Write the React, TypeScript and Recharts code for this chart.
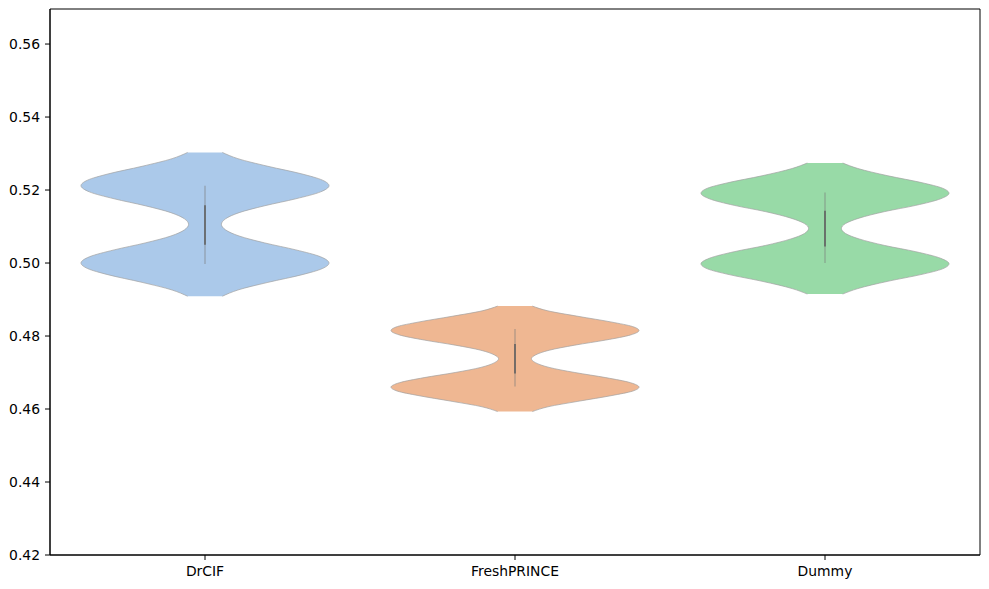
import { ComposedChart, Area, Line, XAxis, YAxis, ReferenceArea } from 'recharts';

const categories = ['DrCIF', 'FreshPRINCE', 'Dummy'];
const fills = ['#abc9ea', '#efb792', '#98daa7'];
const yTicks = [0.42, 0.44, 0.46, 0.48, 0.5, 0.52, 0.54, 0.56];

// violin outlines: value level -> half width (in category units)
const drcifLevels = [0.4909, 0.4926, 0.4947, 0.4968, 0.4985, 0.5, 0.5017, 0.5036, 0.5055, 0.5074, 0.5091, 0.5106, 0.5121, 0.5138, 0.5157, 0.5176, 0.5195, 0.5212, 0.5227, 0.5244, 0.5265, 0.5286, 0.5303];
const drcifWidths = [0.056, 0.106, 0.203, 0.313, 0.379, 0.4, 0.373, 0.293, 0.193, 0.11, 0.066, 0.053, 0.066, 0.11, 0.193, 0.293, 0.373, 0.4, 0.379, 0.313, 0.203, 0.106, 0.056];

const freshLevels = [0.4593, 0.4606, 0.4621, 0.4637, 0.4649, 0.466, 0.4672, 0.4686, 0.47, 0.4714, 0.4727, 0.4738, 0.4748, 0.4761, 0.4775, 0.4789, 0.4803, 0.4815, 0.4826, 0.4838, 0.4854, 0.4869, 0.4882];
const freshWidths = [0.056, 0.106, 0.203, 0.313, 0.379, 0.4, 0.373, 0.293, 0.193, 0.11, 0.066, 0.053, 0.066, 0.11, 0.193, 0.293, 0.373, 0.4, 0.379, 0.313, 0.203, 0.106, 0.056];

const dummyLevels = [0.4915, 0.493, 0.495, 0.4969, 0.4984, 0.4998, 0.5013, 0.5031, 0.5048, 0.5066, 0.5081, 0.5095, 0.5108, 0.5123, 0.5141, 0.5158, 0.5176, 0.5191, 0.5205, 0.522, 0.5239, 0.5259, 0.5274];
const dummyWidths = [0.057, 0.106, 0.203, 0.313, 0.379, 0.4, 0.373, 0.293, 0.193, 0.11, 0.066, 0.053, 0.066, 0.11, 0.193, 0.293, 0.373, 0.4, 0.379, 0.313, 0.203, 0.106, 0.057];

// inner box: whisker span and quartile span
const whiskers = [[0.4997, 0.5212], [0.4662, 0.4819], [0.5, 0.5193]];
const quartiles = [[0.505, 0.5158], [0.4697, 0.4778], [0.5045, 0.5143]];

const violins = [
  { levels: drcifLevels, widths: drcifWidths },
  { levels: freshLevels, widths: freshWidths },
  { levels: dummyLevels, widths: dummyWidths },
];

const blank = () => ({
  v0: [null, null], v1: [null, null], v2: [null, null],
  w0: null, w1: null, w2: null,
  b0: null, b1: null, b2: null,
});

const rows: any[] = [];
violins.forEach((v, i) => {
  v.levels.forEach((y, j) => {
    rows.push({ ...blank(), y, ['v' + i]: [i - v.widths[j], i + v.widths[j]] });
  });
});
whiskers.forEach((w, i) => w.forEach((y) => rows.push({ ...blank(), y, ['w' + i]: i })));
quartiles.forEach((q, i) => q.forEach((y) => rows.push({ ...blank(), y, ['b' + i]: i })));

const tickStyle = { fill: '#000', fontSize: 13.9, fontFamily: 'DejaVu Sans' };

export default function App() {
  return (
    <div style={{ position: 'absolute', left: 0, top: 0 }}>
      <ComposedChart
        width={989}
        height={589}
        data={rows}
        layout="vertical"
        margin={{ top: 9, right: 9, bottom: 0, left: 0 }}
      >
        <XAxis
          type="number"
          domain={[-0.5, 2.5]}
          allowDataOverflow
          ticks={[0, 1, 2]}
          tickFormatter={(v) => categories[v]}
          height={34}
          tickSize={5}
          tickMargin={6}
          stroke="#000"
          tick={tickStyle}
        />
        <YAxis
          type="number"
          dataKey="y"
          domain={[0.42, 0.5696]}
          allowDataOverflow
          reversed
          ticks={yTicks}
          tickFormatter={(v) => v.toFixed(2)}
          width={50}
          tickSize={5}
          tickMargin={5}
          stroke="#000"
          tick={tickStyle}
        />
        {violins.map((_, i) => (
          <Area
            key={'v' + i}
            dataKey={'v' + i}
            type="monotone"
            fill={fills[i]}
            fillOpacity={1}
            stroke="#a0a0a0"
            strokeWidth={0.7}
            connectNulls
            dot={false}
            activeDot={false}
            isAnimationActive={false}
          />
        ))}
        {whiskers.map((_, i) => (
          <Line
            key={'w' + i}
            dataKey={'w' + i}
            stroke="#7a7a7a"
            strokeOpacity={0.45}
            strokeWidth={1.5}
            connectNulls
            dot={false}
            activeDot={false}
            isAnimationActive={false}
          />
        ))}
        {quartiles.map((_, i) => (
          <Line
            key={'b' + i}
            dataKey={'b' + i}
            stroke="#606060"
            strokeWidth={1.6}
            connectNulls
            dot={false}
            activeDot={false}
            isAnimationActive={false}
          />
        ))}
        <ReferenceArea x1={-0.5} x2={2.5} y1={0.42} y2={0.5696} fill="none" stroke="#000" strokeWidth={1} />
      </ComposedChart>
    </div>
  );
}
